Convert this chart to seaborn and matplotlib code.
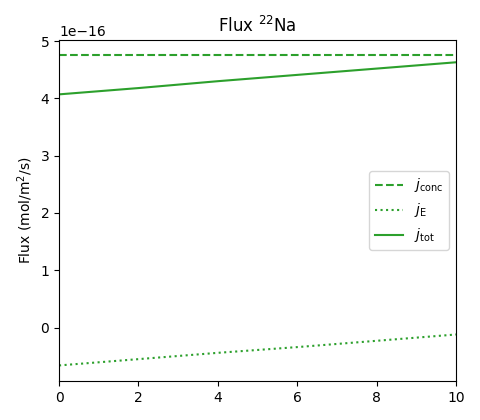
import matplotlib
matplotlib.use("Agg")
import matplotlib.pyplot as plt
import pandas as pd
import seaborn as sns

# distance (x) and flux values (units of 1e-16 mol/m^2/s)
x = [0, 2, 4, 6, 8, 10]
j_conc = [4.75, 4.75, 4.75, 4.75, 4.75, 4.75]
j_E = [-0.66, -0.55, -0.44, -0.34, -0.23, -0.12]
j_tot = [4.07, 4.18, 4.30, 4.41, 4.52, 4.63]

scale = 1e-16
df = pd.DataFrame({
    "x": x,
    "conc": [v * scale for v in j_conc],
    "E": [v * scale for v in j_E],
    "tot": [v * scale for v in j_tot],
})

green = "#2ca02c"

fig, ax = plt.subplots(figsize=(4.8, 4.2), dpi=100)
fig.subplots_adjust(left=0.123, right=0.95, top=0.905, bottom=0.093)

sns.lineplot(data=df, x="x", y="conc", ax=ax, color=green, linestyle="--",
             label=r"$j_\mathrm{conc}$")
sns.lineplot(data=df, x="x", y="E", ax=ax, color=green, linestyle=":",
             label=r"$j_\mathrm{E}$")
sns.lineplot(data=df, x="x", y="tot", ax=ax, color=green, linestyle="-",
             label=r"$j_\mathrm{tot}$")

ax.set_xlim(0, 10)
ax.set_xlabel("")
ax.set_ylabel(r"Flux (mol/m$^2$/s)")
ax.set_title(r"Flux $^{22}$Na")
ax.legend(loc="center right")

fig.savefig("out.png", dpi=100)
